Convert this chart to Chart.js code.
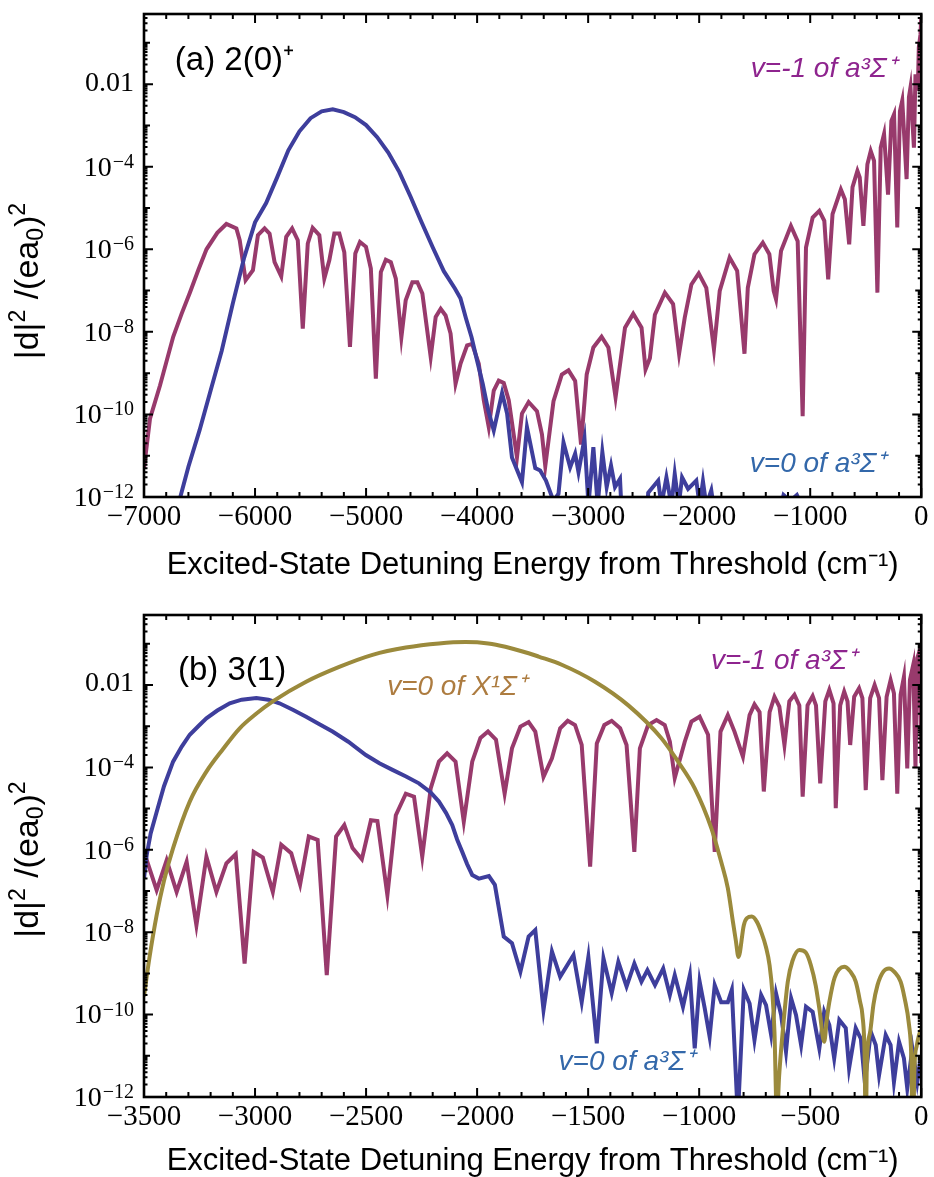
<!DOCTYPE html>
<html>
<head>
<meta charset="utf-8">
<script src="https://cdn.jsdelivr.net/npm/chart.js@4.4.1/dist/chart.umd.min.js"></script>
<style>
  html, body { margin: 0; padding: 0; background: #ffffff; }
  #wrap { position: relative; width: 934px; height: 1177px; }
  canvas { position: absolute; left: 0; }
  #panelA { top: 0; }
  #panelB { top: 590px; }
</style>
</head>
<body>
<div id="wrap">
  <canvas id="panelA" width="934" height="590"></canvas>
  <canvas id="panelB" width="934" height="587"></canvas>
</div>
<script>
// ---------- Panel (a): 2(0)+ ----------
// v=-1 of a3Σ+
const energyA_vm1 = [-7000,-6946,-6856,-6737,-6660,-6587,-6510,-6437,-6340,-6258,-6168,-6138,-6085,-6019,-5974,-5914,-5869,-5824,-5764,-5719,-5666,-5615,-5570,-5525,-5481,-5421,-5376,-5331,-5286,-5241,-5196,-5145,-5097,-5055,-5001,-4957,-4912,-4867,-4822,-4777,-4732,-4682,-4643,-4583,-4538,-4493,-4418,-4373,-4328,-4284,-4239,-4194,-4149,-4090,-4045,-3985,-3940,-3895,-3850,-3805,-3760,-3715,-3641,-3596,-3536,-3461,-3416,-3386,-3312,-3237,-3177,-3117,-3064,-3013,-2953,-2879,-2818,-2753,-2668,-2594,-2519,-2483,-2444,-2399,-2309,-2235,-2181,-2130,-2070,-2004,-1936,-1867,-1815,-1726,-1658,-1592,-1562,-1502,-1427,-1368,-1329,-1308,-1263,-1174,-1113,-1068,-1038,-978,-918,-873,-838,-799,-724,-688,-649,-619,-575,-554,-521,-485,-455,-425,-395,-365,-335,-299,-269,-245,-216,-192,-171,-132,-111,-97,-66,-52,-31,-22,-7,0];
const valueA_vm1 = [5.0e-12,7.9e-11,5.0e-10,7.6e-9,2.8e-8,8.9e-8,3.2e-7,1.0e-6,2.5e-6,4.1e-6,3.2e-6,1.66e-6,1.78e-7,3.1e-7,2.2e-6,3.2e-6,2.4e-6,4.9e-7,2.2e-7,2.0e-6,3.2e-6,1.66e-6,1.2e-8,1.38e-6,3.3e-6,2.2e-6,1.95e-7,5.4e-7,2.4e-6,2.4e-6,8.5e-7,4.3e-9,7.9e-7,1.5e-6,1.15e-6,3.4e-7,7.4e-10,2.8e-7,5.6e-7,4.9e-7,1.95e-7,7.4e-9,5.8e-8,1.6e-7,1.6e-7,8.5e-8,2.45e-9,2.3e-8,3.6e-8,2.5e-8,9.1e-9,5.5e-10,1.7e-9,4.7e-9,5.1e-9,1.7e-9,2.2e-10,4.9e-11,3.8e-10,6.6e-10,5.8e-10,2.2e-10,9.1e-12,1.05e-10,2.0e-10,1.2e-10,3.3e-11,5.6e-12,2.1e-10,9.3e-10,1.17e-9,6.5e-10,1.86e-11,9.3e-10,4.2e-9,7.6e-9,4.2e-9,2.6e-10,1.26e-8,2.75e-8,1.26e-8,1.23e-9,2.3e-9,2.6e-8,8.9e-8,4.7e-8,2.95e-9,2.2e-8,1.41e-7,2.6e-7,1.17e-7,3.8e-9,9.8e-8,6.3e-7,3.0e-7,2.95e-9,1.17e-7,7.6e-7,1.45e-6,7.6e-7,9.8e-8,6.2e-8,9.1e-7,3.7e-6,1.58e-6,9.1e-11,1.1e-6,5.9e-6,8.5e-6,4.9e-6,1.86e-7,7.1e-6,2.8e-5,1.62e-5,1.32e-6,3.2e-5,7.9e-5,5.5e-5,3.7e-6,1.15e-4,2.4e-4,1.38e-4,8.9e-8,2.9e-4,6.2e-4,2.1e-5,1.29e-3,1.86e-3,3.4e-6,2.2e-3,4.0e-3,5.0e-5,4.8e-3,8.3e-3,2.9e-4,1.74e-2,6.9e-3,7.8e-2,0.16,0.4];

// v=0 of a3Σ+
const energyA_v0 = [-6680,-6600,-6500,-6400,-6300,-6200,-6100,-6000,-5900,-5800,-5700,-5600,-5500,-5400,-5300,-5200,-5100,-5000,-4900,-4800,-4700,-4600,-4500,-4400,-4300,-4200,-4150,-4100,-4050,-4000,-3950,-3900,-3850,-3775,-3730,-3686,-3596,-3551,-3476,-3432,-3380,-3312,-3267,-3222,-3162,-3117,-3087,-3033,-2997,-2953,-2914,-2872,-2833,-2794,-2758,-2713,-2694,-2600,-2480,-2459,-2369,-2340,-2295,-2250,-2220,-2184,-2154,-2100,-2026,-1996,-1966,-1936,-1891,-1861,-1500,-1270,-1240,-1180,-1120,-1060,-900,0];
const valueA_v0 = [8.5e-13,5.4e-12,4.1e-11,3.8e-10,3.5e-9,4.9e-8,6.0e-7,4.5e-6,1.32e-5,5.6e-5,2.5e-4,7.2e-4,1.5e-3,2.2e-3,2.45e-3,2.1e-3,1.58e-3,1.02e-3,5.2e-4,2.2e-4,7.4e-5,1.9e-5,4.5e-6,1.12e-6,2.95e-7,1.12e-7,6.5e-8,2.1e-8,7.4e-9,2.0e-9,5.6e-10,1.26e-10,4.1e-11,3.3e-10,1.05e-10,9.1e-12,2.3e-12,4.9e-11,5.0e-12,4.4e-12,2.5e-12,8e-13,1.2e-12,2.1e-11,5.2e-12,1.12e-11,4.0e-12,2.6e-11,6.3e-13,1.62e-11,6.3e-13,1.23e-11,1.74e-12,5.8e-12,1.74e-12,2.75e-12,2.5e-13,1e-13,1.6e-13,1.26e-12,2.5e-12,6.3e-13,3.0e-12,6.3e-13,3.6e-12,6.3e-13,3.0e-12,1.58e-12,2.5e-12,6.3e-13,2.4e-12,6.3e-13,1.45e-12,4e-13,1e-13,5e-13,1.12e-12,8e-13,1.12e-12,5e-13,1e-13,3e-14];

const xTicksA = [-7000,-6000,-5000,-4000,-3000,-2000,-1000,0];
const xTickLabelsA = ['\u22127000','\u22126000','\u22125000','\u22124000','\u22123000','\u22122000','\u22121000','0'];

// ---------- Panel (b): 3(1) ----------
// v=-1 of a3Σ+
const energyB_vm1 = [-3500,-3443,-3398,-3353,-3308,-3264,-3219,-3174,-3129,-3087,-3047,-3006,-2965,-2920,-2882,-2837,-2797,-2758,-2718,-2677,-2635,-2598,-2561,-2519,-2478,-2449,-2404,-2366,-2321,-2284,-2247,-2209,-2172,-2135,-2097,-2060,-2022,-1985,-1951,-1915,-1876,-1843,-1805,-1768,-1738,-1701,-1663,-1626,-1592,-1559,-1529,-1491,-1461,-1427,-1394,-1356,-1327,-1292,-1267,-1230,-1192,-1155,-1132,-1110,-1065,-1035,-998,-960,-930,-904,-871,-841,-803,-773,-751,-728,-709,-683,-661,-639,-616,-594,-571,-549,-534,-512,-489,-474,-455,-432,-414,-395,-385,-365,-347,-332,-320,-302,-280,-265,-250,-230,-210,-190,-175,-156,-138,-123,-108,-93,-78,-63,-51,-36,-26,-18,-6,0];
const valueB_vm1 = [8.9e-7,1.05e-7,5.6e-7,9.5e-8,5.1e-7,1.48e-8,6.8e-7,9.5e-8,4.7e-7,7.8e-7,1.74e-9,8.9e-7,6.5e-7,9.5e-8,1.32e-6,8.3e-7,1.45e-7,2.1e-6,1.74e-6,9.1e-10,2.1e-6,4.0e-6,1.1e-6,5.9e-7,5.2e-6,5.0e-6,7.9e-8,6.9e-6,2.3e-5,1.95e-5,6.8e-7,3.1e-5,1.38e-4,2.2e-4,1.38e-4,4.8e-6,1.38e-4,5.2e-4,7.4e-4,4.7e-4,2.3e-5,2.9e-4,9.8e-4,1.26e-3,7.4e-4,5.9e-5,1.66e-4,8.9e-4,1.35e-3,1.07e-3,3.5e-4,3.9e-7,3.8e-4,1.07e-3,1.35e-3,8.9e-4,3.5e-4,8.9e-7,2.9e-4,1.07e-3,1.41e-3,1.07e-3,4.2e-4,5.5e-5,4.2e-4,1.29e-3,1.7e-3,6.2e-4,8.9e-7,7.4e-4,1.86e-3,7.4e-4,1.82e-4,1.86e-3,3.4e-3,2.2e-3,2.6e-5,2.2e-3,5.2e-3,3.0e-3,3.5e-4,4.0e-3,5.8e-3,3.2e-3,1.95e-5,3.2e-3,5.4e-3,3.2e-3,4.1e-5,4.0e-3,7.6e-3,3.6e-3,1.02e-5,3.2e-3,6.9e-3,4.0e-3,3.5e-4,5.2e-3,8.3e-3,4.8e-3,2.8e-5,4.8e-3,1.0e-2,4.8e-3,4.9e-5,5.2e-3,1.32e-2,6.3e-3,2.3e-5,5.8e-3,1.58e-2,9.5e-5,1.32e-2,3.1e-2,9.5e-5,4.5e-2,7.1e-2,1.26e-4];

// v=0 of a3Σ+
const energyB_v0 = [-3500,-3488,-3470,-3443,-3410,-3369,-3330,-3294,-3250,-3219,-3170,-3114,-3060,-2994,-2940,-2890,-2830,-2770,-2710,-2651,-2580,-2501,-2440,-2381,-2320,-2262,-2210,-2172,-2140,-2112,-2090,-2067,-2045,-2022,-1992,-1947,-1920,-1880,-1843,-1805,-1768,-1738,-1701,-1663,-1626,-1566,-1529,-1499,-1461,-1431,-1394,-1364,-1327,-1292,-1260,-1233,-1199,-1162,-1132,-1110,-1073,-1042,-1020,-998,-975,-953,-930,-901,-871,-853,-826,-799,-773,-751,-721,-699,-676,-654,-631,-609,-586,-564,-541,-519,-489,-459,-437,-414,-392,-369,-340,-325,-295,-272,-254,-227,-205,-190,-160,-138,-123,-100,-78,-63,-40,-18,-3,0];
const valueB_v0 = [2.0e-7,7.4e-7,2.5e-6,8.3e-6,3.5e-5,1.38e-4,3.2e-4,6.2e-4,1.07e-3,1.55e-3,2.4e-3,3.6e-3,4.4e-3,4.8e-3,4.4e-3,3.6e-3,2.5e-3,1.7e-3,1.12e-3,7.4e-4,4.2e-4,2.0e-4,1.26e-4,8.7e-5,6.0e-5,4.1e-5,2.5e-5,1.48e-5,7.9e-6,4.0e-6,1.78e-6,8.9e-7,4.5e-7,2.45e-7,2.0e-7,2.3e-7,1.41e-7,7.8e-9,5.4e-9,1.1e-9,7.8e-9,1.12e-8,1.29e-10,3.4e-9,8.3e-10,2.8e-9,2.0e-10,2.5e-9,2.0e-11,2.3e-9,3.3e-10,1.9e-9,4.8e-10,1.74e-9,6.3e-10,1.2e-9,5.2e-10,1.32e-9,3.0e-10,9.1e-10,1.55e-10,9.1e-10,1.51e-11,6.3e-10,1.41e-10,2.9e-11,5.2e-10,2.0e-10,2.0e-10,4.0e-10,3.2e-13,4.0e-10,1.86e-10,2.4e-11,3.0e-10,1.7e-10,3.2e-11,3.3e-10,9.8e-11,1.26e-11,2.5e-10,9.8e-11,1.82e-11,1.55e-10,1.17e-10,1.51e-11,1.17e-10,5.6e-11,8.7e-12,7.4e-11,4.7e-11,5.0e-12,4.7e-11,2.6e-11,2.3e-12,3.8e-11,1.82e-11,3.4e-12,3.2e-11,1.82e-11,2.3e-12,2.2e-11,8.7e-12,1.62e-12,1.51e-11,2.3e-12,8.7e-12,3.2e-12];

// v=0 of X1Σ+
const energyB_X0 = [-3500,-3475,-3443,-3410,-3369,-3294,-3219,-3144,-3069,-2995,-2920,-2770,-2621,-2471,-2321,-2172,-2052,-1950,-1873,-1768,-1723,-1619,-1469,-1319,-1170,-1095,-1020,-945,-901,-871,-848,-835,-823,-799,-785,-763,-740,-721,-700,-683,-670,-661,-650,-640,-624,-601,-580,-549,-520,-497,-475,-459,-437,-425,-414,-390,-347,-320,-295,-275,-265,-255,-250,-245,-230,-215,-197,-170,-145,-120,-93,-75,-55,-45,-38,-30,-20,-10,0];
const valueB_X0 = [2.8e-10,2.5e-9,2.6e-8,1.78e-7,1.1e-6,1.48e-5,7.9e-5,2.8e-4,8.9e-4,2.0e-3,4.0e-3,1.2e-2,2.75e-2,5.4e-2,8.1e-2,0.102,0.11,0.102,8.5e-2,5.9e-2,4.9e-2,3.1e-2,1.2e-2,3.2e-3,5.1e-4,1.38e-4,3.1e-5,3.3e-6,5.1e-7,1.17e-7,1.78e-8,6.3e-9,2.5e-9,1.48e-8,2.2e-8,2.4e-8,1.78e-8,1.02e-8,4.5e-9,1.58e-9,3.2e-10,3.8e-11,3.2e-13,3.2e-12,3.8e-11,6.3e-10,2.0e-9,3.7e-9,3.2e-9,1.58e-9,5.0e-10,1.41e-10,2.2e-11,7.9e-11,2.0e-10,7.9e-10,1.45e-9,1.12e-9,6.3e-10,2.0e-10,9.8e-11,1.0e-11,1e-13,6.3e-12,3.8e-11,1.78e-10,5.2e-10,1.12e-9,1.32e-9,1.07e-9,6.3e-10,2.5e-10,5.6e-11,1.0e-11,1e-13,6.3e-12,1.78e-11,3.2e-11,4.5e-11];

const xTicksB = [-3500,-3000,-2500,-2000,-1500,-1000,-500,0];
const xTickLabelsB = ['\u22123500','\u22123000','\u22122500','\u22122000','\u22121500','\u22121000','\u2212500','0'];

// shared log axis: labelled every second decade, written as [mantissa, exponent]
const yTicks = [1e-12, 1e-10, 1e-8, 1e-6, 1e-4, 1e-2];
const yTickLabels = [['10', '\u221212'], ['10', '\u221210'], ['10', '\u22128'], ['10', '\u22126'], ['10', '\u22124'], ['0.01', '']];
const yMin = 1e-12;
const yMax = 0.5;

// ---------- styling ----------
const COLOR_TRIPLET1 = '#983a6c';
const COLOR_TRIPLET0 = '#3e3e9c';
const COLOR_SINGLET0 = '#9b8a3c';
const SANS = "'Liberation Sans', Arial, Helvetica, sans-serif";
const SERIF = "'Liberation Serif', 'Times New Roman', serif";
const X_TITLE = 'Excited-State Detuning Energy from Threshold (cm\u207B\u00B9)';
// y title pieces: [text, role] where role is 'n' normal, 'sup' or 'sub'
const Y_TITLE_PARTS = [['|d|', 'n'], ['2', 'sup'], [' /(ea', 'n'], ['0', 'sub'], [')', 'n'], ['2', 'sup']];

function toPoints(xs, ys) {
  return xs.map((x, i) => ({ x: x, y: ys[i] }));
}

function lineSet(xs, ys, color, smooth) {
  return {
    data: toPoints(xs, ys),
    borderColor: color,
    borderWidth: 4,
    pointRadius: 0,
    fill: false,
    tension: 0,
    cubicInterpolationMode: smooth ? 'monotone' : 'default',
    borderJoinStyle: 'miter',
    clip: 0
  };
}

// Frame with inward tick marks on all four sides, y tick labels
// (mantissa with raised exponent) and the rotated y title
function framePlugin(xMajor, xMinorStep, yTitleShift) {
  return {
    id: 'frame',
    afterDatasetsDraw(chart) {
      const { ctx, chartArea: a, scales } = chart;
      const xs = scales.x, ys = scales.y;
      ctx.save();
      ctx.strokeStyle = '#000';
      ctx.lineWidth = 2;
      ctx.beginPath();
      const n = Math.round((xs.max - xs.min) / xMinorStep);
      for (let i = 0; i <= n; i++) {
        const v = xs.min + i * xMinorStep;
        const px = xs.getPixelForValue(v);
        const len = xMajor.includes(v) ? 9 : 5;
        ctx.moveTo(px, a.bottom); ctx.lineTo(px, a.bottom - len);
        ctx.moveTo(px, a.top); ctx.lineTo(px, a.top + len);
      }
      for (let e = -12; e <= 0; e++) {
        for (let k = 1; k <= 9; k++) {
          const v = k * Math.pow(10, e);
          if (v < ys.min * 0.999 || v > ys.max) continue;
          const py = ys.getPixelForValue(v);
          const len = k === 1 ? (e % 2 === 0 ? 9 : 6) : 3.5;
          ctx.moveTo(a.left, py); ctx.lineTo(a.left + len, py);
          ctx.moveTo(a.right, py); ctx.lineTo(a.right - len, py);
        }
      }
      ctx.stroke();
      ctx.lineWidth = 2.6;
      ctx.strokeRect(a.left, a.top, a.right - a.left, a.bottom - a.top);

      // y tick labels
      ctx.fillStyle = '#000';
      const right = a.left - 10;
      yTicks.forEach((v, i) => {
        const py = ys.getPixelForValue(v);
        const [base, exp] = yTickLabels[i];
        ctx.font = '28px ' + SERIF;
        if (!exp) {
          ctx.textAlign = 'right';
          ctx.textBaseline = 'middle';
          ctx.fillText(base, right, py - 1);
          return;
        }
        ctx.font = '20px ' + SERIF;
        const ew = ctx.measureText(exp).width;
        ctx.textAlign = 'left';
        ctx.textBaseline = 'alphabetic';
        ctx.fillText(exp, right - ew, py + 1);
        ctx.font = '28px ' + SERIF;
        ctx.textAlign = 'right';
        ctx.textBaseline = 'middle';
        ctx.fillText(base, right - ew - 1, py + 1.5);
      });

      // y title, rotated
      const mainFont = '34px ' + SANS, smallFont = '23px ' + SANS;
      let total = 0;
      for (const [t, role] of Y_TITLE_PARTS) {
        ctx.font = role === 'n' ? mainFont : smallFont;
        total += ctx.measureText(t).width + (role === 'n' ? 0 : 1);
      }
      ctx.translate(38, (a.top + a.bottom) / 2 + yTitleShift);
      ctx.rotate(-Math.PI / 2);
      ctx.textAlign = 'left';
      ctx.textBaseline = 'alphabetic';
      let cx = -total / 2;
      for (const [t, role] of Y_TITLE_PARTS) {
        ctx.font = role === 'n' ? mainFont : smallFont;
        const dy = role === 'sup' ? -13 : (role === 'sub' ? 5 : 0);
        ctx.fillText(t, cx, dy);
        cx += ctx.measureText(t).width + (role === 'n' ? 0 : 1);
      }
      ctx.restore();
    }
  };
}

// Panel tag and curve names placed in data coordinates
function notesPlugin(items) {
  return {
    id: 'notes',
    afterDatasetsDraw(chart) {
      const { ctx, scales } = chart;
      ctx.save();
      ctx.textAlign = 'left';
      ctx.textBaseline = 'middle';
      for (const n of items) {
        ctx.font = n.font;
        ctx.fillStyle = n.color;
        ctx.fillText(n.text, scales.x.getPixelForValue(n.x), scales.y.getPixelForValue(n.y));
      }
      ctx.restore();
    }
  };
}

function buildPanel(canvasId, cfg) {
  return new Chart(document.getElementById(canvasId), {
    type: 'line',
    data: { datasets: cfg.datasets },
    options: {
      responsive: false,
      animation: false,
      events: [],
      layout: { padding: { top: cfg.padTop, right: 10, left: 0, bottom: 0 } },
      plugins: { legend: { display: false }, tooltip: { enabled: false } },
      scales: {
        x: {
          type: 'linear',
          min: cfg.xTicks[0],
          max: cfg.xTicks[cfg.xTicks.length - 1],
          afterBuildTicks: (s) => { s.ticks = cfg.xTicks.map(v => ({ value: v })); },
          afterFit: (s) => { s.height = cfg.xAxisHeight; },
          grid: { display: false, drawTicks: false },
          border: { display: false },
          ticks: {
            autoSkip: false, maxRotation: 0, padding: 5.5, color: '#000',
            font: { family: SERIF, size: 29, lineHeight: 1 },
            callback: (v, i) => cfg.xLabels[i]
          },
          title: {
            display: true, text: X_TITLE, color: '#000',
            font: { family: SANS, size: 31, lineHeight: 1 },
            padding: { top: 0, bottom: cfg.xTitlePad }
          }
        },
        y: {
          type: 'logarithmic',
          min: yMin,
          max: yMax,
          afterBuildTicks: (s) => { s.ticks = yTicks.map(v => ({ value: v })); },
          afterFit: (s) => { s.width = 144; },
          grid: { display: false, drawTicks: false },
          border: { display: false },
          ticks: { display: false },
          title: { display: false }
        }
      }
    },
    plugins: [framePlugin(cfg.xTicks, cfg.xMinorStep, cfg.yTitleShift), notesPlugin(cfg.notes)]
  });
}

buildPanel('panelA', {
  datasets: [
    lineSet(energyA_v0, valueA_v0, COLOR_TRIPLET0, false),
    lineSet(energyA_vm1, valueA_vm1, COLOR_TRIPLET1, false)
  ],
  xTicks: xTicksA, xLabels: xTickLabelsA, xMinorStep: 200,
  padTop: 14, xAxisHeight: 93, xTitlePad: 9.5, yTitleShift: 25,
  notes: [
    { text: '(a) 2(0)\u207A', x: -6722, y: 0.036, font: '33px ' + SANS, color: '#000' },
    { text: 'v=-1 of a\u00B3\u03A3\u207A', x: -1535, y: 0.023, font: 'italic 28px ' + SANS, color: '#8e248e' },
    { text: 'v=0 of a\u00B3\u03A3\u207A', x: -1544, y: 6.2e-12, font: 'italic 28px ' + SANS, color: '#3368aa' }
  ]
});

buildPanel('panelB', {
  datasets: [
    lineSet(energyB_X0, valueB_X0, COLOR_SINGLET0, true),
    lineSet(energyB_v0, valueB_v0, COLOR_TRIPLET0, false),
    lineSet(energyB_vm1, valueB_vm1, COLOR_TRIPLET1, false)
  ],
  xTicks: xTicksB, xLabels: xTickLabelsB, xMinorStep: 100,
  padTop: 25, xAxisHeight: 80, xTitlePad: 0, yTitleShift: 3,
  notes: [
    { text: '(b) 3(1)', x: -3347, y: 0.022, font: '33px ' + SANS, color: '#000' },
    { text: 'v=0 of X\u00B9\u03A3\u207A', x: -2405, y: 8.9e-3, font: 'italic 28px ' + SANS, color: '#ad7c40' },
    { text: 'v=-1 of a\u00B3\u03A3\u207A', x: -947, y: 0.038, font: 'italic 28px ' + SANS, color: '#8e248e' },
    { text: 'v=0 of a\u00B3\u03A3\u207A', x: -1633, y: 6.8e-12, font: 'italic 28px ' + SANS, color: '#3368aa' }
  ]
});
</script>
</body>
</html>
